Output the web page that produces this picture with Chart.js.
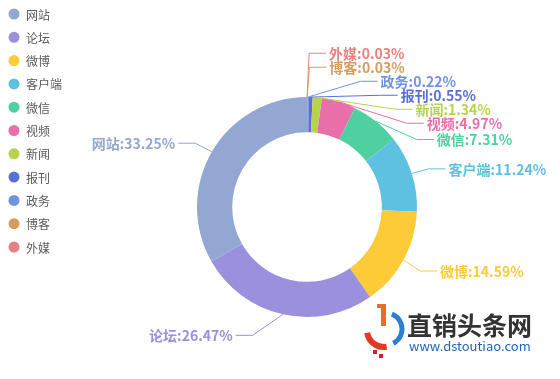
<!DOCTYPE html>
<html>
<head>
<meta charset="utf-8">
<script src="https://cdn.jsdelivr.net/npm/chart.js@4/dist/chart.umd.min.js"></script>
<style>
html,body{margin:0;padding:0;background:#fff;}
#wrap{width:560px;height:379px;position:relative;}
</style>
</head>
<body>
<div id="wrap"><canvas id="c" width="560" height="379"></canvas></div>
<script>
// Data (clockwise from 12 o'clock)
const categories = ['外媒','博客','政务','报刊','新闻','视频','微信','客户端','微博','论坛','网站'];
const shares = [0.03, 0.03, 0.22, 0.55, 1.34, 4.97, 7.31, 11.24, 14.59, 26.47, 33.25];
const colors = ['#e98080','#d89b5e','#6e93e4','#5b70d6','#b7d34c','#ea6ea9','#4fd0a1','#5ec1e1','#fdca38','#9b90de','#94a7d2'];

const FONT = '"Noto Sans CJK SC", "Noto Sans", sans-serif';

const labelPlugin = {
  id: 'echartsLabels',
  afterDraw(chart) {
    const ctx = chart.ctx;
    const meta = chart.getDatasetMeta(0);
    const arcs = meta.data;
    const cx = arcs[0].x, cy = arcs[0].y, r = arcs[0].outerRadius;
    const len = 20, len2 = 17, H = 14;
    const viewHeight = chart.height;
    const list = arcs.map((a, i) => {
      const mid = (a.startAngle + a.endAngle) / 2;
      const dx = Math.cos(mid), dy = Math.sin(mid);
      const x1 = cx + r * dx, y1 = cy + r * dy;
      const x2 = x1 + dx * len, y2 = y1 + dy * len;
      const x3 = x2 + (dx < 0 ? -1 : 1) * len2, y3 = y2;
      return {
        i, x: x3 + (dx < 0 ? -5 : 5), y: y3, height: H, len, len2,
        align: dx < 0 ? 'right' : 'left',
        pts: [[x1, y1], [x2, y2], [x3, y3]]
      };
    });

    function adjustSingleSide(lst, dir) {
      lst.sort((a, b) => a.y - b.y);
      function shiftUp(end, delta) {
        for (let j = end; j >= 0; j--) {
          lst[j].y -= delta;
          if (j > 0 && lst[j].y > lst[j - 1].y + lst[j - 1].height) break;
        }
      }
      function shiftDown(start, end, delta) {
        for (let j = start; j < end; j++) {
          lst[j].y += delta;
          if (j > start && j + 1 < end && lst[j + 1].y > lst[j].y + lst[j].height) {
            shiftUp(j, delta / 2);
            return;
          }
        }
        shiftUp(end - 1, delta / 2);
      }
      function changeX(sub, isDown) {
        let lastDeltaX = isDown ? Number.MAX_VALUE : 0;
        for (let k = 0; k < sub.length; k++) {
          const it = sub[k];
          const deltaY = Math.abs(it.y - cy);
          const R = r + it.len + it.len2;
          let deltaX = deltaY < r + it.len ? Math.sqrt(R * R - deltaY * deltaY) : Math.abs(it.x - cx);
          if (isDown && deltaX >= lastDeltaX) deltaX = lastDeltaX - 10;
          if (!isDown && deltaX <= lastDeltaX) deltaX = lastDeltaX + 10;
          it.x = cx + deltaX * dir;
          lastDeltaX = deltaX;
        }
      }
      let lastY = 0;
      const n = lst.length;
      for (let k = 0; k < n; k++) {
        const delta = lst[k].y - lastY;
        if (delta < 0) shiftDown(k, n, -delta);
        lastY = lst[k].y + lst[k].height;
      }
      if (viewHeight - lastY < 0) shiftUp(n - 1, lastY - viewHeight);
      const up = [], down = [];
      lst.forEach(it => (it.y >= cy ? down : up).push(it));
      changeX(up, false);
      changeX(down, true);
    }

    const left = [], right = [];
    list.forEach(it => (it.pts[0][0] < cx ? left : right).push(it));
    adjustSingleSide(right, 1);
    adjustSingleSide(left, -1);
    list.forEach(it => {
      const p = it.pts;
      const dist = p[1][0] - p[2][0];
      p[2][0] = it.x < cx ? it.x + 3 : it.x - 3;
      p[1][1] = p[2][1] = it.y;
      p[1][0] = p[2][0] + dist;
    });

    ctx.save();
    list.forEach(it => {
      const col = colors[it.i];
      ctx.strokeStyle = col;
      ctx.lineWidth = 1;
      ctx.beginPath();
      ctx.moveTo(it.pts[0][0], it.pts[0][1]);
      ctx.lineTo(it.pts[1][0], it.pts[1][1] + 1.5);
      ctx.lineTo(it.pts[2][0], it.pts[2][1] + 1.5);
      ctx.stroke();
      ctx.fillStyle = col;
      ctx.font = 'bold 14px ' + FONT;
      ctx.textAlign = it.align;
      ctx.textBaseline = 'middle';
      ctx.fillText(categories[it.i] + ':' + shares[it.i].toFixed(2) + '%', it.x, it.y + 2);
    });

    // legend (reverse order, vertical at left)
    ctx.font = '12px ' + FONT;
    ctx.textAlign = 'left';
    ctx.textBaseline = 'middle';
    const n = categories.length;
    for (let k = 0; k < n; k++) {
      const idx = n - 1 - k;
      const y = 14 + k * 23.3;
      ctx.fillStyle = colors[idx];
      ctx.beginPath();
      ctx.arc(14, y, 5.5, 0, Math.PI * 2);
      ctx.fill();
      ctx.fillStyle = '#5a5a5a';
      ctx.fillText(categories[idx], 26, y + 1);
    }

    // watermark
    ctx.save();
    ctx.lineCap = 'butt';
    ctx.strokeStyle = '#e23a22';
    ctx.lineWidth = 6;
    ctx.beginPath();
    ctx.arc(384, 330, 17, Math.PI * 0.95, Math.PI * 0.45, true);
    ctx.stroke();
    ctx.fillStyle = '#f26a1b';
    ctx.fillRect(381, 304, 5, 22);
    ctx.fillRect(377, 304, 6, 4);
    ctx.strokeStyle = '#2b7fd1';
    ctx.lineWidth = 5;
    ctx.beginPath();
    ctx.arc(386, 329, 16, -Math.PI * 0.38, Math.PI * 0.35);
    ctx.stroke();
    ctx.fillStyle = '#d8202a';
    ctx.fillRect(373, 350, 4, 4);
    ctx.fillRect(379, 354, 4, 4);
    ctx.restore();
    ctx.fillStyle = '#333';
    ctx.font = 'bold 25px ' + FONT;
    ctx.textAlign = 'left';
    ctx.textBaseline = 'middle';
    ctx.fillText('直销头条网', 407, 325);
    ctx.fillStyle = '#1f64b8';
    ctx.font = '13px ' + FONT;
    ctx.fillText('www.dstoutiao.com', 409, 346);
    ctx.restore();
  }
};

new Chart(document.getElementById('c'), {
  type: 'doughnut',
  data: {
    labels: categories,
    datasets: [{
      data: shares,
      backgroundColor: colors,
      borderWidth: 0
    }]
  },
  options: {
    responsive: false,
    animation: false,
    cutout: '68%',
    layout: { padding: { left: 197, right: 143, top: 97, bottom: 62 } },
    plugins: { legend: { display: false }, tooltip: { enabled: false } }
  },
  plugins: [labelPlugin]
});
</script>
</body>
</html>
